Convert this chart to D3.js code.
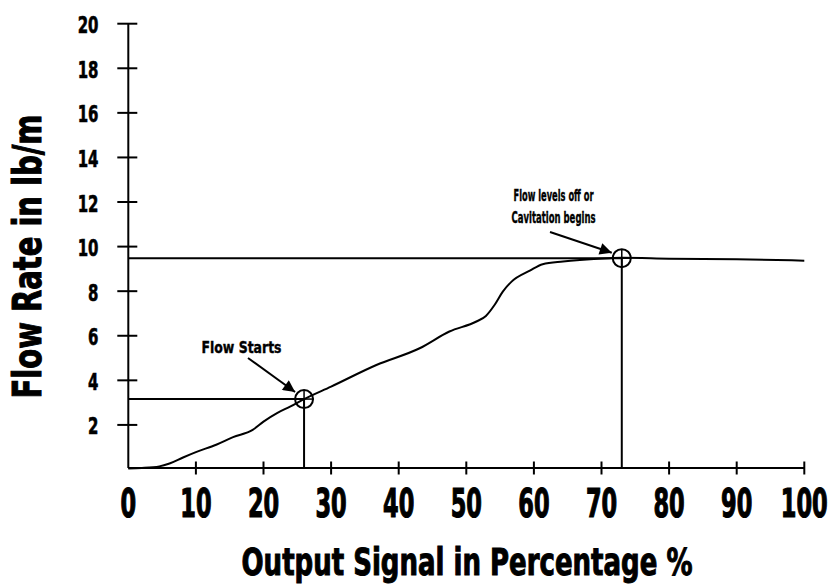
<!DOCTYPE html>
<html>
<head>
<meta charset="utf-8">
<script src="https://cdn.jsdelivr.net/npm/d3@7"></script>
<style>
  html, body { margin: 0; padding: 0; background: #fff; }
  svg { display: block; }
  text { font-family: "Liberation Sans Narrow", "DejaVu Sans Condensed", "Arial Narrow", sans-serif; font-weight: bold; fill: #000; stroke: #000; }
</style>
</head>
<body>
<svg id="chart" width="832" height="584"></svg>
<script>
// ---- data ----
const outputSignal = [0, 2, 4.6, 6.1, 8.1, 10, 13, 15.5, 18.4, 20, 22, 24, 26, 30, 36.7, 43.1, 47.5, 51.5, 52.9, 54.2, 55.4, 56.7, 59.4, 61.3, 64.3, 66.8, 71.2, 73, 80, 90, 100];
const flowRate     = [0.05, 0.07, 0.14, 0.27, 0.54, 0.78, 1.11, 1.45, 1.78, 2.15, 2.53, 2.83, 3.16, 3.72, 4.69, 5.44, 6.19, 6.64, 6.89, 7.39, 7.98, 8.43, 8.92, 9.21, 9.33, 9.40, 9.48, 9.50, 9.46, 9.43, 9.37];
const xTicks = [0, 10, 20, 30, 40, 50, 60, 70, 80, 90, 100];
const yTicks = [2, 4, 6, 8, 10, 12, 14, 16, 18, 20];
const markerLabels = ["Flow Starts", "Flow levels off or|Cavitation begins"];
const markerX = [26, 73];
const markerY = [3.16, 9.48];
const xTitle = "Output Signal in Percentage %";
const yTitle = "Flow Rate in lb/m";

// ---- layout ----
const svg = d3.select("#chart");
const x = d3.scaleLinear().domain([0, 100]).range([128.3, 804.3]);
const y = d3.scaleLinear().domain([0, 20]).range([469.5, 23.7]);
const y0 = y(0) - 1.5;

const defs = svg.append("defs");
defs.append("marker").attr("id", "ah").attr("viewBox", "0 0 10 10")
  .attr("refX", 10).attr("refY", 5).attr("markerWidth", 16).attr("markerHeight", 12)
  .attr("markerUnits", "userSpaceOnUse").attr("orient", "auto")
  .append("path").attr("d", "M0,0 L10,5 L0,10 Z").attr("fill", "#000");

// y axis
svg.append("line").attr("x1", x(0)).attr("x2", x(0)).attr("y1", y(20)).attr("y2", y0)
  .attr("stroke", "#000").attr("stroke-width", 2);
svg.selectAll(".ytick").data(yTicks).enter().append("line")
  .attr("x1", x(0) - 11).attr("x2", x(0) + 9)
  .attr("y1", d => y(d)).attr("y2", d => y(d))
  .attr("stroke", "#000").attr("stroke-width", 2);
svg.selectAll(".ylab").data(yTicks).enter().append("text")
  .attr("x", 98.5).attr("y", d => y(d) + 9.5)
  .attr("text-anchor", "end").attr("font-size", 23).attr("stroke-width", 0.6)
  .attr("textLength", d => String(d).length * 10.4).attr("lengthAdjust", "spacingAndGlyphs")
  .text(d => d);

// x axis
svg.append("line").attr("x1", x(0)).attr("x2", x(100)).attr("y1", y0).attr("y2", y0)
  .attr("stroke", "#000").attr("stroke-width", 2);
svg.selectAll(".xtick").data(xTicks.slice(1)).enter().append("line")
  .attr("x1", d => x(d)).attr("x2", d => x(d))
  .attr("y1", y0 - 6.5).attr("y2", y0 + 6.5)
  .attr("stroke", "#000").attr("stroke-width", 2);
svg.selectAll(".xlab").data(xTicks).enter().append("text")
  .attr("transform", d => `translate(${x(d)},517) scale(0.64,1)`)
  .attr("text-anchor", "middle").attr("font-size", 39).attr("stroke-width", 1.2)
  .text(d => d);

// titles
svg.append("text").attr("x", 467).attr("y", 575).attr("text-anchor", "middle")
  .attr("font-size", 37).attr("stroke-width", 1)
  .attr("textLength", 451).attr("lengthAdjust", "spacingAndGlyphs")
  .text(xTitle);
svg.append("text").attr("transform", "translate(41,256.5) rotate(-90)")
  .attr("text-anchor", "middle").attr("font-size", 39).attr("stroke-width", 1)
  .attr("textLength", 284).attr("lengthAdjust", "spacingAndGlyphs")
  .text(yTitle);

// reference lines to markers
markerX.forEach((mx, i) => {
  svg.append("line").attr("x1", x(0)).attr("x2", x(mx)).attr("y1", y(markerY[i])).attr("y2", y(markerY[i]))
    .attr("stroke", "#000").attr("stroke-width", 2);
  svg.append("line").attr("x1", x(mx)).attr("x2", x(mx)).attr("y1", y(markerY[i])).attr("y2", y0)
    .attr("stroke", "#000").attr("stroke-width", 2);
});

// curve
const pts = outputSignal.map((v, i) => [v, flowRate[i]]);
svg.append("path").datum(pts)
  .attr("d", d3.line().x(d => x(d[0])).y(d => y(d[1])).curve(d3.curveMonotoneX))
  .attr("fill", "none").attr("stroke", "#000").attr("stroke-width", 2);

// marker circles with crosshair
markerX.forEach((mx, i) => {
  const cx = x(mx), cy = y(markerY[i]);
  svg.append("circle").attr("cx", cx).attr("cy", cy).attr("r", 9)
    .attr("fill", "none").attr("stroke", "#000").attr("stroke-width", 2);
  svg.append("line").attr("x1", cx - 9).attr("x2", cx + 9).attr("y1", cy).attr("y2", cy)
    .attr("stroke", "#000").attr("stroke-width", 1.5);
  svg.append("line").attr("x1", cx).attr("x2", cx).attr("y1", cy - 9).attr("y2", cy + 9)
    .attr("stroke", "#000").attr("stroke-width", 1.5);
});

// annotations
svg.append("text").attr("x", 241.5).attr("y", 353).attr("text-anchor", "middle")
  .attr("font-size", 16.5).attr("stroke-width", 0.4)
  .attr("textLength", 80).attr("lengthAdjust", "spacingAndGlyphs")
  .text(markerLabels[0]);
svg.append("line").attr("x1", 248).attr("y1", 358).attr("x2", x(markerX[0]) - 9).attr("y2", y(markerY[0]) - 7)
  .attr("stroke", "#000").attr("stroke-width", 2).attr("marker-end", "url(#ah)");

const cavLines = markerLabels[1].split("|");
svg.append("text").attr("x", 553.5).attr("y", 201).attr("text-anchor", "middle")
  .attr("font-size", 16.5).attr("stroke-width", 0.4)
  .attr("textLength", 80).attr("lengthAdjust", "spacingAndGlyphs")
  .text(cavLines[0]);
svg.append("text").attr("x", 553.5).attr("y", 223).attr("text-anchor", "middle")
  .attr("font-size", 16.5).attr("stroke-width", 0.4)
  .attr("textLength", 84).attr("lengthAdjust", "spacingAndGlyphs")
  .text(cavLines[1]);
svg.append("line").attr("x1", 550).attr("y1", 232).attr("x2", x(markerX[1]) - 10).attr("y2", y(markerY[1]) - 5.5)
  .attr("stroke", "#000").attr("stroke-width", 2).attr("marker-end", "url(#ah)");
</script>
</body>
</html>
